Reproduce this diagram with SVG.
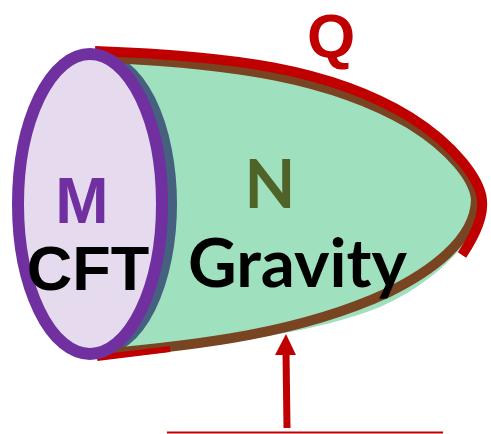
<svg xmlns="http://www.w3.org/2000/svg" width="491" height="434" viewBox="0 0 491 434">
<style>
.lbl{font-family:"Liberation Sans",Arial,sans-serif;font-weight:bold;text-anchor:middle}
.cal{font-family:Lato,"Liberation Sans",sans-serif;font-weight:bold}
.red{stroke:#C00000;fill:none;stroke-linecap:butt}
</style>
<rect width="491" height="434" fill="#FFFFFF"/>
<g id="node-N">
<path d="M95,52 C230,57 330,70 410,118 C455,146 480,180 481,200 C482,240 430,285 380,307 C320,332 220,345 100,357 Z" fill="#9FE0BF"/>
<path d="M99,57 A73,147 0 0 1 99,351" fill="none" stroke="#46607F" stroke-width="10"/>
<path d="M112,58 C230,64 330,77 410,124 C452,150 475,180 476,200 C475,240 430,272 387,293 C300,333 200,345 100,354" fill="none" stroke="#784421" stroke-width="10"/>
<text class="cal" x="270" y="208" font-size="66" fill="#4F6228" text-anchor="middle">N</text>
<text class="cal" x="188" y="287" font-size="66" fill="#000000" textLength="219" lengthAdjust="spacingAndGlyphs">Gravity</text>
</g>
<g id="node-Q">
<path class="red" d="M97,358 L170,349" stroke-width="6"/>
<path class="red" d="M95,51 C230,56 330,68 410,117 C455,145 480,180 482,200 C484,218 472,240 462,255" stroke-width="10"/>
<text class="lbl" x="331" y="57" font-size="62" fill="#C00000">Q</text>
</g>
<g id="node-M">
<ellipse cx="90" cy="204" rx="72" ry="150" fill="#E6DAEF" stroke="#7030A0" stroke-width="12"/>
<text class="lbl" x="82" y="223" font-size="64" fill="#7030A0">M</text>
<text class="lbl" x="88" y="290" font-size="63" fill="#000000">CFT</text>
</g>
<g id="connectors">
<line x1="287" y1="428" x2="286" y2="352" stroke="#C00000" stroke-width="7"/>
<polygon points="286,334 296,355 275,355" fill="#C00000"/>
<line x1="167" y1="432.5" x2="443" y2="432.5" stroke="#C00000" stroke-width="2"/>
</g>
</svg>
